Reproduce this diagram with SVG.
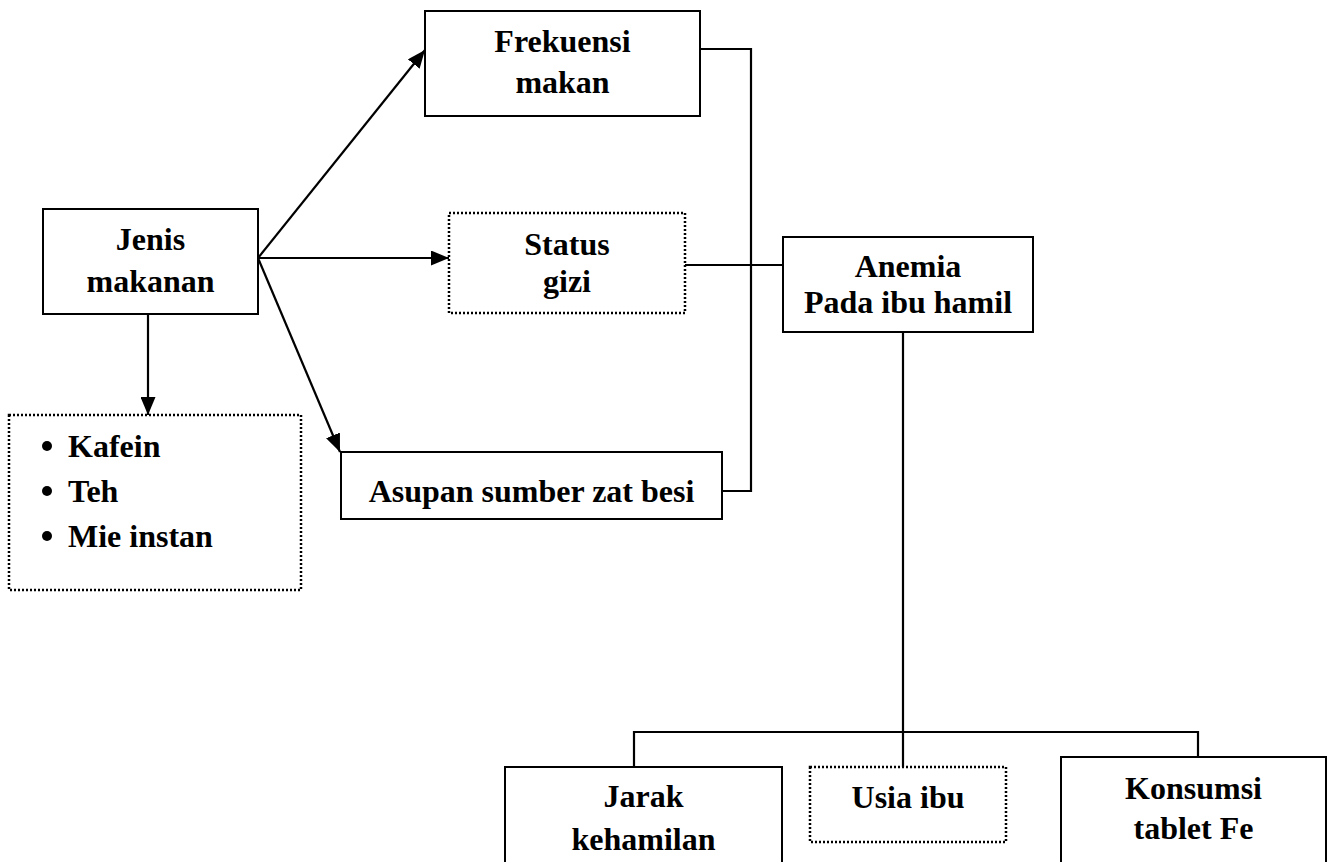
<svg xmlns="http://www.w3.org/2000/svg" width="1336" height="862" viewBox="0 0 1336 862">
<style>
.box{fill:#fff;stroke:#000;stroke-width:2}
.dot{fill:#fff;stroke:#000;stroke-width:2.5;stroke-dasharray:2 2}
.ln{fill:none;stroke:#000;stroke-width:2.2}
text{font-family:"Liberation Serif","Times New Roman",serif;font-weight:bold;font-size:32px;fill:#000;text-anchor:middle}
.l{text-anchor:start}
</style>
<defs>
<marker id="ah" viewBox="0 0 18 15" refX="18" refY="7.5" markerWidth="18" markerHeight="15" markerUnits="userSpaceOnUse" orient="auto">
<path d="M0,0 L18,7.5 L0,15 z" fill="#000"/>
</marker>
</defs>
<g id="connectors">
<line class="ln" x1="258" y1="258" x2="425" y2="50" marker-end="url(#ah)"/>
<line class="ln" x1="258" y1="258" x2="449" y2="258" marker-end="url(#ah)"/>
<line class="ln" x1="258" y1="258" x2="340" y2="452" marker-end="url(#ah)"/>
<line class="ln" x1="148" y1="314" x2="148" y2="415" marker-end="url(#ah)"/>
<polyline class="ln" points="700,49 751,49 751,491 722,491"/>
<line class="ln" x1="685" y1="265" x2="783" y2="265"/>
<line class="ln" x1="903" y1="332" x2="903" y2="767"/>
<polyline class="ln" points="634,767 634,732 1198,732 1198,757"/>
</g>
<g id="jenis">
<rect class="box" x="43" y="209" width="215" height="105"/>
<text x="150.5" y="250">Jenis</text>
<text x="150.5" y="292">makanan</text>
</g>
<g id="list">
<rect class="dot" x="9" y="415" width="292" height="175"/>
<circle cx="47" cy="446" r="5"/>
<circle cx="47" cy="491" r="5"/>
<circle cx="47" cy="536" r="5"/>
<text class="l" x="68" y="457">Kafein</text>
<text class="l" x="68" y="502">Teh</text>
<text class="l" x="68" y="547">Mie instan</text>
</g>
<g id="frekuensi">
<rect class="box" x="425" y="11" width="275" height="105"/>
<text x="562.5" y="52">Frekuensi</text>
<text x="562.5" y="93">makan</text>
</g>
<g id="status">
<rect class="dot" x="449" y="213" width="236" height="100"/>
<text x="567" y="255">Status</text>
<text x="567" y="292">gizi</text>
</g>
<g id="asupan">
<rect class="box" x="341" y="452" width="381" height="67"/>
<text x="531.5" y="502">Asupan sumber zat besi</text>
</g>
<g id="anemia">
<rect class="box" x="783" y="237" width="250" height="95"/>
<text x="908" y="277">Anemia</text>
<text x="908" y="313">Pada ibu hamil</text>
</g>
<g id="jarak">
<rect class="box" x="505" y="767" width="277" height="110"/>
<text x="643.5" y="807">Jarak</text>
<text x="643.5" y="850">kehamilan</text>
</g>
<g id="usia">
<rect class="dot" x="810" y="767" width="196" height="75"/>
<text x="908" y="808">Usia ibu</text>
</g>
<g id="konsumsi">
<rect class="box" x="1061" y="757" width="265" height="120"/>
<text x="1193.5" y="799">Konsumsi</text>
<text x="1193.5" y="839">tablet Fe</text>
</g>
</svg>
